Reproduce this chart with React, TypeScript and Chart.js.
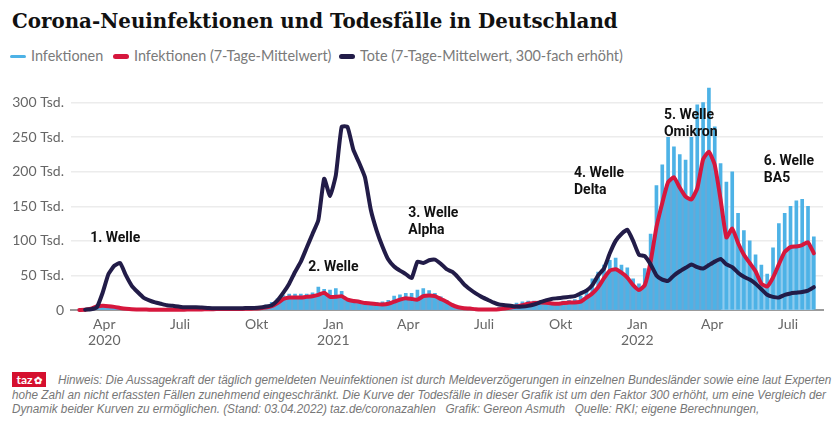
import React, { useEffect, useLayoutEffect, useRef } from 'react';
import { Chart, registerables } from 'chart.js';

Chart.register(...registerables);

// ---------- data (values in thousands, one point per week) ----------
const FIRST_WEEK = '2020-03-02';

// weekly peak of daily reported infections
const infPeak = [
  0.3, 1, 3, 6, 6.5, 6.5, 5.5, 4, 2.5, 1.5,
  1.2, 1, 0.8, 0.8, 0.7, 0.9, 0.9, 0.8, 0.9, 1,
  1.2, 1.5, 1.6, 2, 2.2, 2, 2, 2.3, 2.5, 2.8,
  3, 4.5, 7, 11, 16, 21, 23, 23, 23, 23,
  25, 33, 30, 29, 31, 27, 17, 15, 14, 12,
  11, 11, 12, 14, 20, 22, 24, 24, 29, 31,
  28, 24, 19, 14, 9, 5, 3, 2, 1.5, 1.2,
  1.5, 2.5, 4, 6, 8, 10, 12, 13, 13, 12,
  11, 11, 11, 13, 14, 15, 20, 30, 45, 55,
  65, 72, 75, 65, 61, 45, 38, 60, 110, 180,
  210, 250, 236, 225, 217, 250, 297, 300, 321, 265,
  212, 185, 200, 140, 115, 100, 80, 65, 52, 90,
  125, 140, 150, 158, 160, 150, 106,
];

// 7-day average of infections
const infAvg = [
  0.1, 0.5, 2, 5, 6, 5.5, 4.5, 3, 1.8, 1,
  0.8, 0.6, 0.5, 0.4, 0.4, 0.4, 0.5, 0.5, 0.5, 0.6,
  0.7, 0.9, 1, 1.2, 1.4, 1.4, 1.3, 1.4, 1.6, 1.8,
  2, 2.5, 3.5, 5.5, 10, 16, 18, 18, 18, 19,
  20, 22, 25, 19, 19, 20, 15, 13, 12, 10,
  9.5, 8.5, 8, 9, 12, 15, 17, 16, 15, 20,
  21, 20, 16, 12, 7, 4, 2.5, 2, 1.2, 0.8,
  0.7, 0.8, 1.2, 2, 3.5, 5, 7, 9, 10, 11,
  10.5, 9.5, 9, 10, 11, 11, 12, 18, 24, 33,
  46, 57, 59, 54, 47, 36, 29, 36, 70, 120,
  155, 185, 192, 177, 164, 160, 176, 218, 229, 210,
  160, 105, 118, 97, 80, 68, 56, 38, 34, 47,
  66, 84, 91, 92, 94, 98, 82,
];

// 7-day average of deaths, multiplied by 300
const deaths300 = [
  null, 0.5, 1, 4, 25, 52, 64, 68, 50, 35,
  26, 18, 14, 11, 9, 7, 6, 5, 4, 4,
  4, 3.5, 3, 2.5, 2.5, 2.5, 2.5, 2.5, 2.5, 3,
  3, 3.5, 5, 7, 14, 25, 38, 55, 70, 90,
  110, 130, 190, 165, 195, 265, 265, 232, 213, 192,
  145, 115, 92, 73, 63, 57, 52, 46, 70, 68,
  72, 73, 67, 59, 55, 47, 37, 30, 24, 19,
  15, 11, 8, 7, 6, 5, 5, 6, 8, 11,
  14, 16, 17, 18, 19, 20, 24, 28, 36, 50,
  60, 82, 100, 110, 116, 100, 80, 78, 66, 50,
  44, 42, 50, 56, 61, 66, 62, 60, 65, 70,
  74, 66, 62, 54, 48, 44, 38, 30, 22, 19,
  18, 22, 24, 25, 26, 28, 33,
];

const X_RANGE = ['2020-02-21', '2022-08-12'];
const TICK_DATES = [
  '2020-04-01', '2020-07-01', '2020-10-01', '2021-01-01', '2021-04-01',
  '2021-07-01', '2021-10-01', '2022-01-01', '2022-04-01', '2022-07-01',
];
const TICK_LABELS: (string | string[])[] = [
  ['Apr', '2020'], 'Juli', 'Okt', ['Jan', '2021'], 'Apr', 'Juli', 'Okt', ['Jan', '2022'], 'Apr', 'Juli',
];
const Y_TICKS = [0, 50, 100, 150, 200, 250, 300];
const Y_MAX = 325;
const STEEL_UNTIL = 110; // week index where the darker area ends

const WAVES = [
  { date: '2020-03-15', value: 103, lines: ['1. Welle'] },
  { date: '2020-12-02', value: 62, lines: ['2. Welle'] },
  { date: '2021-04-01', value: 139, lines: ['3. Welle', 'Alpha'] },
  { date: '2021-10-17', value: 197, lines: ['4. Welle', 'Delta'] },
  { date: '2022-02-02', value: 282, lines: ['5. Welle', 'Omikron'] },
  { date: '2022-06-02', value: 215, lines: ['6. Welle', 'BA5'] },
];

const LEGEND = [
  { label: 'Infektionen', color: '#4db2e6', thick: 3, x: 10 },
  { label: 'Infektionen (7-Tage-Mittelwert)', color: '#d6173d', thick: 5, x: 113 },
  { label: 'Tote (7-Tage-Mittelwert, 300-fach erhöht)', color: '#221c48', thick: 5, x: 339 },
];

const TITLE = 'Corona-Neuinfektionen und Todesfälle in Deutschland';
const NOTE_LINES = [
  'Hinweis: Die Aussagekraft der täglich gemeldeten Neuinfektionen ist durch Meldeverzögerungen in einzelnen Bundesländer sowie eine laut Experten',
  'hohe Zahl an nicht erfassten Fällen zunehmend eingeschränkt. Die Kurve der Todesfälle in dieser Grafik ist um den Faktor 300 erhöht, um eine Vergleich der',
  'Dynamik beider Kurven zu ermöglichen. (Stand: 03.04.2022) taz.de/coronazahlen \u00a0 Grafik: Gereon Asmuth \u00a0 Quelle: RKI; eigene Berechnungen,',
];

// ---------- helpers ----------
const T0 = Date.UTC(2020, 0, 1);
const dayOf = (s: string) => (Date.parse(s) - T0) / 86400000;
const weekDay = (i: number) => dayOf(FIRST_WEEK) + 7 * i;
const toPoints = (arr: (number | null)[]) => arr.map((v, i) => ({ x: weekDay(i), y: v }));

const FONT = 'Lato, "Noto Sans", sans-serif';

const wavePlugin = {
  id: 'waveLabels',
  afterDatasetsDraw(chart: any) {
    const { ctx, scales } = chart;
    ctx.save();
    ctx.font = 'bold 14px Roboto, "Noto Sans", sans-serif';
    ctx.fillStyle = '#111';
    ctx.textBaseline = 'middle';
    ctx.textAlign = 'left';
    WAVES.forEach((w) => {
      const px = scales.x.getPixelForValue(dayOf(w.date));
      const py = scales.y.getPixelForValue(w.value);
      w.lines.forEach((t, k) => ctx.fillText(t, px, py + k * 17));
    });
    ctx.restore();
  },
};

export default function App() {
  const canvasRef = useRef<HTMLCanvasElement>(null);
  const titleRef = useRef<HTMLDivElement>(null);
  const noteRefs = [useRef<HTMLDivElement>(null), useRef<HTMLDivElement>(null), useRef<HTMLDivElement>(null)];

  useLayoutEffect(() => {
    const t = titleRef.current;
    if (t) {
      t.style.transform = 'none';
      t.style.transform = `scaleX(${606 / t.offsetWidth})`;
    }
    const l2 = noteRefs[1].current;
    if (l2) {
      const f = 814 / l2.offsetWidth;
      noteRefs.forEach((r) => {
        if (r.current) r.current.style.transform = `scaleX(${f})`;
      });
    }
  }, []);

  useEffect(() => {
    if (!canvasRef.current) return;
    const steel = infAvg.map((v, i) => (i <= STEEL_UNTIL ? v : null));
    const light = infAvg.map((v, i) => (i >= STEEL_UNTIL ? v : null));
    const chart = new Chart(canvasRef.current, {
      type: 'line',
      data: {
        datasets: [
          {
            type: 'line',
            label: 'Tote',
            data: toPoints(deaths300),
            borderColor: '#221c48',
            borderWidth: 4,
            pointRadius: 0,
            tension: 0.15,
            fill: false,
            order: 0,
            clip: 6,
            borderCapStyle: 'round',
            borderJoinStyle: 'round',
          } as any,
          {
            type: 'line',
            label: 'Mittelwert',
            data: toPoints(infAvg),
            borderColor: '#d6173d',
            borderWidth: 4,
            pointRadius: 0,
            tension: 0.15,
            fill: false,
            order: 1,
            clip: 6,
            borderCapStyle: 'round',
            borderJoinStyle: 'round',
          } as any,
          {
            type: 'bar',
            label: 'Infektionen',
            data: toPoints(infPeak),
            backgroundColor: '#4db2e6',
            barThickness: 3,
            order: 2,
          } as any,
          {
            type: 'line',
            label: 'area1',
            data: toPoints(steel),
            borderWidth: 0,
            pointRadius: 0,
            tension: 0.15,
            fill: 'origin',
            backgroundColor: '#69a8d6',
            order: 3,
          } as any,
          {
            type: 'line',
            label: 'area2',
            data: toPoints(light),
            borderWidth: 0,
            pointRadius: 0,
            tension: 0.15,
            fill: 'origin',
            backgroundColor: '#8fcbee',
            order: 4,
          } as any,
        ],
      },
      options: {
        animation: false,
        responsive: false,
        devicePixelRatio: 1,
        layout: { padding: { top: 10, right: 12, left: 0, bottom: 0 } },
        plugins: { legend: { display: false }, tooltip: { enabled: false } },
        scales: {
          x: {
            type: 'linear',
            min: dayOf(X_RANGE[0]),
            max: dayOf(X_RANGE[1]),
            offset: false,
            z: 1,
            grid: { display: false, drawTicks: false },
            border: { display: true, color: '#9b9b9b', width: 2 },
            afterBuildTicks: (s: any) => {
              s.ticks = TICK_DATES.map((d) => ({ value: dayOf(d) }));
            },
            afterFit: (s: any) => {
              s.height = 40;
            },
            ticks: {
              autoSkip: false,
              maxRotation: 0,
              padding: 6,
              color: '#666',
              font: { family: FONT, size: 14, lineHeight: 1.15 },
              callback: (_v: any, i: number) => TICK_LABELS[i],
            },
          },
          y: {
            min: 0,
            max: Y_MAX,
            grid: {
              drawTicks: false,
              color: (c: any) => (c.tick && c.tick.value === 0 ? 'rgba(0,0,0,0)' : '#ececec'),
              lineWidth: 1.5,
            },
            border: { display: false },
            afterBuildTicks: (s: any) => {
              s.ticks = Y_TICKS.map((v) => ({ value: v }));
            },
            afterFit: (s: any) => {
              s.width = 71;
            },
            ticks: {
              padding: 7,
              color: '#666',
              font: { family: FONT, size: 14 },
              callback: (v: any) => (v === 0 ? '0' : `${v} Tsd.`),
            },
          },
        },
      } as any,
      plugins: [wavePlugin],
    });
    return () => chart.destroy();
  }, []);

  return (
    <div style={{ position: 'absolute', left: 0, top: 0, width: 835, height: 428, background: '#fff', overflow: 'hidden' }}>
      <div
        ref={titleRef}
        style={{
          position: 'absolute', left: 12, top: 7, whiteSpace: 'nowrap', transformOrigin: 'left top',
          font: 'bold 21px "DejaVu Serif", serif', lineHeight: '28px', color: '#111',
        }}
      >
        {TITLE}
      </div>
      {LEGEND.map((l) => (
        <div key={l.label} style={{ position: 'absolute', left: l.x, top: 47, height: 18, whiteSpace: 'nowrap' }}>
          <span
            style={{
              position: 'absolute', left: 0, top: 9 - l.thick / 2, width: 16, height: l.thick,
              background: l.color, borderRadius: l.thick / 2,
            }}
          />
          <span style={{ position: 'absolute', left: 21, top: 0, font: `14.4px ${FONT}`, lineHeight: '18px', color: '#7a7a7a' }}>
            {l.label}
          </span>
        </div>
      ))}
      <canvas ref={canvasRef} width={835} height={280} style={{ position: 'absolute', left: 0, top: 70, width: 835, height: 280 }} />
      <div
        style={{
          position: 'absolute', left: 12, top: 372, width: 34, height: 15, background: '#d5102f', color: '#fff',
          font: `bold 12px ${FONT}`, lineHeight: '15px', textAlign: 'center', whiteSpace: 'nowrap',
        }}
      >
        taz<span style={{ fontSize: 10, marginLeft: 1 }}>✿</span>
      </div>
      {NOTE_LINES.map((t, i) => (
        <div
          key={i}
          ref={noteRefs[i]}
          style={{
            position: 'absolute', left: i === 0 ? 58 : 12, top: 372 + i * 14.5, whiteSpace: 'nowrap',
            transformOrigin: 'left top', font: 'italic 12px "Liberation Sans Narrow", "Liberation Sans", sans-serif',
            lineHeight: '16px', color: '#777',
          }}
        >
          {t}
        </div>
      ))}
    </div>
  );
}
